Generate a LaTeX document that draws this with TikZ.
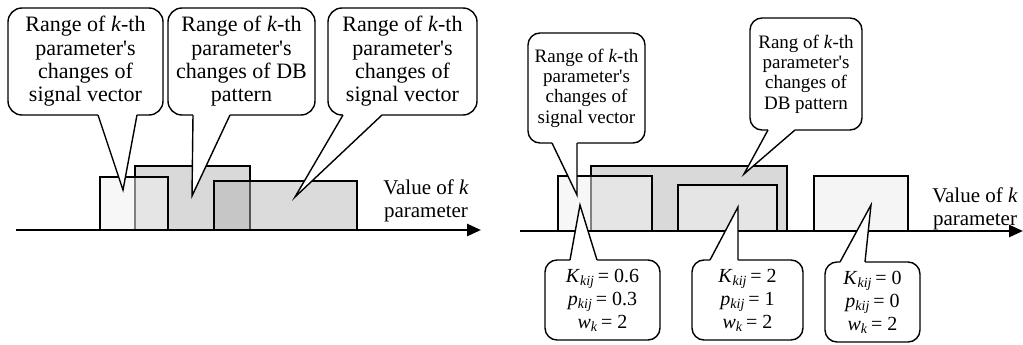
\documentclass[tikz,border=0pt]{standalone}
\usepackage{fontspec}
\setmainfont{Liberation Serif}[Ligatures=TeXOff]
\usetikzlibrary{arrows.meta,calc}

% pointer of a speech bubble: corner anchor, two offsets along the edge, tip, inward shift
\newcommand\calltail[5]{%
  \fill[white] ($(#1)+(#2,#5)$) -- ($(#1)+(#2,0)$) -- (#4) -- ($(#1)+(#3,0)$) -- ($(#1)+(#3,#5)$) -- cycle;
  \draw[bubbleline] ($(#1)+(#2,0)$) -- (#4) -- ($(#1)+(#3,0)$);}

\begin{document}
\begin{tikzpicture}[x=1pt,y=-1pt,
  bubbleline/.style={line width=1.4pt, line join=miter},
  bubble/.style={draw, line width=1.4pt, fill=white, rounded corners=14pt,
    align=center, inner sep=0pt, outer sep=0pt},
  bigtext/.style={font=\fontsize{22}{23.3}\selectfont},
  labeltext/.style={font=\fontsize{21}{23}\selectfont},
  smalltext/.style={font=\fontsize{19}{20.3}\selectfont},
  formtext/.style={font=\fontsize{20}{23}\selectfont},
  band/.style={draw, line width=1.2pt},
  axisline/.style={line width=2.5pt, -{Triangle[length=14pt,width=12pt]}},
  ]
\useasboundingbox (0,0) rectangle (1023,345);

% ---------------- left panel ----------------
\filldraw[band, fill=black!15] (135,166) rectangle (250,230);
\filldraw[band, fill=black!6, fill opacity=0.53] (100,177) rectangle (168,230);
\filldraw[band, fill=black!30, fill opacity=0.47] (214,181) rectangle (357,230);

\coordinate (a1) at (16,230);
\coordinate (a2) at (481,230);
\draw[axisline] (a1) -- (a2);
\node[labeltext, align=center] (lab1) at (426,201) {Value of \textit{k}\\parameter};

\node[bubble, bigtext, minimum width=155pt, minimum height=107pt] (c1) at (85.5,61.5)
  {Range of \textit{k}-th\\parameter's\\changes of\\signal vector};
\node[bubble, bigtext, minimum width=147pt, minimum height=107pt] (c2) at (241.5,61.5)
  {Range of \textit{k}-th\\parameter's\\changes of DB\\pattern};
\node[bubble, bigtext, minimum width=149pt, minimum height=107pt] (c3) at (402.5,61.5)
  {Range of \textit{k}-th\\parameter's\\changes of\\signal vector};
\coordinate (t1) at (123,190);
\coordinate (t2) at (192,196);
\coordinate (t3) at (295,197);
\calltail{c1.south west}{90}{129}{t1}{-2}
\calltail{c2.south west}{25}{62}{t2}{-2}
\calltail{c3.south west}{15}{54}{t3}{-2}

% ---------------- right panel ----------------
\filldraw[band, fill=black!15] (591,166) rectangle (787,231);
\filldraw[band, fill=black!6, fill opacity=0.53] (558,176) rectangle (652,231);
\filldraw[band, fill=black!10] (678,185) rectangle (777,231);
\filldraw[band, fill=black!4] (814,176) rectangle (908,231);

\coordinate (b1) at (520,231);
\coordinate (b2) at (1023,231);
\draw[axisline] (b1) -- (b2);
\node[labeltext, align=center] (lab2) at (975,209) {Value of \textit{k}\\parameter};

\node[bubble, smalltext, rounded corners=12pt, minimum width=117pt, minimum height=110pt] (ca) at (586.5,88)
  {Range of \textit{k}-th\\parameter's\\changes of\\signal vector};
\node[bubble, smalltext, rounded corners=12pt, minimum width=112pt, minimum height=112pt] (cb) at (806,74)
  {Rang of \textit{k}-th\\parameter's\\changes of\\DB pattern};
\coordinate (ta) at (577,195);
\coordinate (tb) at (744,174);
\calltail{ca.south west}{24}{49}{ta}{-2}
\calltail{cb.south west}{18}{45}{tb}{-2}

\node[bubble, formtext, rounded corners=12pt, minimum width=115pt, minimum height=80pt] (cc) at (602.5,300)
  {\textit{K}\textsubscript{\textit{kij}}\,= 0.6\\\textit{p}\textsubscript{\textit{kij}}\,= 0.3\\\textit{w}\textsubscript{\textit{k}}\,= 2};
\node[bubble, formtext, rounded corners=12pt, minimum width=111pt, minimum height=80pt] (ce) at (747.5,300)
  {\textit{K}\textsubscript{\textit{kij}}\,= 2\\\textit{p}\textsubscript{\textit{kij}}\,= 1\\\textit{w}\textsubscript{\textit{k}}\,= 2};
\node[bubble, formtext, rounded corners=12pt, minimum width=95pt, minimum height=80pt] (cf) at (872.5,302)
  {\textit{K}\textsubscript{\textit{kij}}\,= 0\\\textit{p}\textsubscript{\textit{kij}}\,= 0\\\textit{w}\textsubscript{\textit{k}}\,= 2};
\coordinate (tc) at (580,205);
\coordinate (te) at (738,207);
\coordinate (tf) at (871,205);
\calltail{cc.north west}{25}{52}{tc}{2}
\calltail{ce.north west}{18}{46}{te}{2}
\calltail{cf.north west}{15}{40}{tf}{2}
\end{tikzpicture}
\end{document}
